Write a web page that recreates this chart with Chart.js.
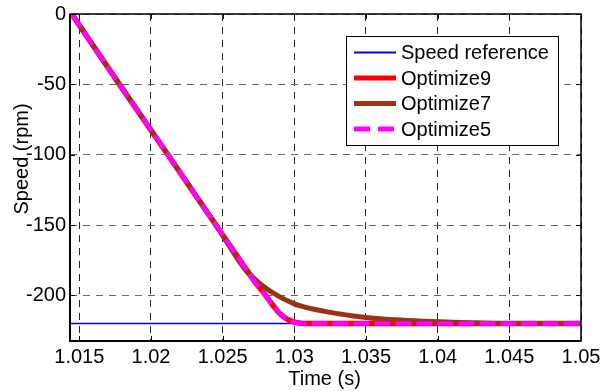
<!DOCTYPE html>
<html>
<head>
<meta charset="utf-8">
<script src="https://cdn.jsdelivr.net/npm/chart.js@4.4.1/dist/chart.umd.min.js"></script>
<style>
  html, body { margin: 0; padding: 0; background: #fff; }
  #wrap { width: 608px; height: 391px; position: relative; }
</style>
</head>
<body>
<div id="wrap"><canvas id="c"></canvas></div>
<script>
// Axis ranges and tick labels
const xRange = [1.01435, 1.05];
const yRange = [-232.4, 0];
const xTicks = [1.015, 1.02, 1.025, 1.03, 1.035, 1.04, 1.045, 1.05];
const xTickLabels = ['1.015', '1.02', '1.025', '1.03', '1.035', '1.04', '1.045', '1.05'];
const yTicks = [0, -50, -100, -150, -200];
const yTickLabels = ['0', '-50', '-100', '-150', '-200'];
const xTitle = 'Time (s)';
const yTitle = 'Speed (rpm)';

// Series names (legend order)
const seriesNames = ['Speed reference', 'Optimize9', 'Optimize7', 'Optimize5'];

// Speed reference
const refTime  = [1.01435, 1.05];
const refSpeed = [-220, -220];

// Optimize9
const opt9Time  = [1.01447, 1.0178, 1.02118, 1.02453, 1.02655, 1.0273, 1.0280, 1.0285, 1.029, 1.0295, 1.030, 1.0305, 1.031, 1.035, 1.05];
const opt9Speed = [0, -50, -100, -150, -180, -191, -200, -207, -213, -216.8, -219, -219.8, -220, -220, -220];

// Optimize7
const opt7Time  = [1.01447, 1.0178, 1.02118, 1.02453, 1.0266, 1.0272, 1.0279, 1.0288, 1.030, 1.0312, 1.0325, 1.034, 1.0355, 1.037, 1.039, 1.041, 1.043, 1.045, 1.05];
const opt7Speed = [0, -50, -100, -150, -182, -188, -194, -200, -206, -209.5, -212, -214.5, -216.2, -217.3, -218.3, -219, -219.6, -220, -220];

// Optimize5
const opt5Time  = [1.01447, 1.0178, 1.02118, 1.02453, 1.02655, 1.0273, 1.0280, 1.0285, 1.029, 1.0295, 1.030, 1.0305, 1.031, 1.035, 1.05];
const opt5Speed = [0, -50, -100, -150, -180, -191, -200, -207, -213, -216.8, -219, -219.8, -220, -220, -220];

const FONT = "'Liberation Sans', Arial, sans-serif";
const colors = ['#0000ff', '#ff0000', '#9a3410', '#ff00ff'];
const widths = [1.5, 5.5, 5, 4.5];
const dashes = [[], [], [], [16, 5]];

const pts = (t, v) => t.map((x, i) => ({ x, y: v[i] }));
const seriesData = [pts(refTime, refSpeed), pts(opt9Time, opt9Speed), pts(opt7Time, opt7Speed), pts(opt5Time, opt5Speed)];

// later series are painted on top (lower order = drawn last)
const datasets = seriesNames.map((name, i) => ({
  label: name,
  data: seriesData[i],
  borderColor: colors[i],
  backgroundColor: colors[i],
  borderWidth: widths[i],
  borderDash: dashes[i],
  borderCapStyle: 'butt',
  borderJoinStyle: 'round',
  pointRadius: 0,
  fill: false,
  cubicInterpolationMode: 'monotone',
  order: seriesNames.length - 1 - i
}));

// Inner tick marks and the axes box
const framePlugin = {
  id: 'frame',
  afterDatasetsDraw(chart) {
    const { ctx, chartArea: a, scales: { x, y } } = chart;
    ctx.save();
    ctx.strokeStyle = '#000';
    ctx.lineWidth = 1;
    ctx.beginPath();
    const tl = 5;
    xTicks.forEach(v => {
      const px = Math.round(x.getPixelForValue(v)) + 0.5;
      ctx.moveTo(px, a.bottom); ctx.lineTo(px, a.bottom - tl);
      ctx.moveTo(px, a.top); ctx.lineTo(px, a.top + tl);
    });
    yTicks.forEach(v => {
      const py = Math.round(y.getPixelForValue(v)) + 0.5;
      ctx.moveTo(a.left, py); ctx.lineTo(a.left + tl, py);
      ctx.moveTo(a.right, py); ctx.lineTo(a.right - tl, py);
    });
    ctx.stroke();
    ctx.lineWidth = 1.5;
    ctx.strokeRect(a.left, a.top, a.right - a.left, a.bottom - a.top);
    ctx.lineWidth = 2;
    ctx.beginPath();
    ctx.moveTo(a.left, a.top); ctx.lineTo(a.left, a.bottom); ctx.lineTo(a.right, a.bottom);
    ctx.stroke();
    ctx.restore();
  }
};

// Boxed legend in the upper right of the axes, plus axis titles
const legendPlugin = {
  id: 'boxLegend',
  afterDraw(chart) {
    const { ctx, chartArea: a } = chart;
    ctx.save();
    const bx = a.right - 235, by = a.top + 22, bw = 212, bh = 109;
    ctx.fillStyle = '#fff';
    ctx.fillRect(bx, by, bw, bh);
    ctx.strokeStyle = '#000';
    ctx.lineWidth = 1;
    ctx.strokeRect(bx + 0.5, by + 0.5, bw, bh);
    ctx.font = '20px ' + FONT;
    ctx.textAlign = 'left';
    ctx.textBaseline = 'middle';
    seriesNames.forEach((name, i) => {
      const cy = by + 16.5 + i * 25.5;
      ctx.beginPath();
      ctx.strokeStyle = colors[i];
      ctx.lineWidth = i === 0 ? 2 : 5;
      ctx.setLineDash(i === 3 ? [16, 8] : []);
      ctx.lineCap = 'butt';
      ctx.moveTo(bx + 8, cy); ctx.lineTo(bx + 50, cy);
      ctx.stroke();
      ctx.setLineDash([]);
      ctx.fillStyle = '#000';
      ctx.fillText(name, bx + 55, cy + 1);
    });

    ctx.fillStyle = '#000';
    ctx.font = '20px ' + FONT;
    ctx.textAlign = 'center';
    ctx.textBaseline = 'alphabetic';
    ctx.fillText(xTitle, (a.left + a.right) / 2 - 1, 385);
    ctx.translate(28, 159);
    ctx.rotate(-Math.PI / 2);
    ctx.fillText(yTitle, 0, 0);
    ctx.restore();
  }
};

new Chart(document.getElementById('c'), {
  type: 'line',
  data: { datasets },
  options: {
    responsive: true,
    maintainAspectRatio: false,
    devicePixelRatio: 1,
    animation: false,
    layout: { padding: { left: 0, right: 27, top: 11, bottom: 0 } },
    plugins: { legend: { display: false }, tooltip: { enabled: false } },
    scales: {
      x: {
        type: 'linear',
        min: xRange[0],
        max: xRange[1],
        afterBuildTicks: s => { s.ticks = xTicks.map(v => ({ value: v })); },
        afterFit: s => { s.height = 50; },
        ticks: {
          autoSkip: false,
          maxRotation: 0,
          padding: 6,
          color: '#000',
          font: { family: FONT, size: 20, lineHeight: 1 },
          callback: (v, i) => xTickLabels[i]
        },
        grid: { color: '#262626', lineWidth: 1, drawTicks: false },
        border: { display: false, dash: [7, 6] }
      },
      y: {
        type: 'linear',
        min: yRange[0],
        max: yRange[1],
        afterBuildTicks: s => { s.ticks = yTicks.map(v => ({ value: v })); },
        afterFit: s => { s.width = 70; },
        ticks: {
          autoSkip: false,
          padding: 4,
          color: '#000',
          font: { family: FONT, size: 20, lineHeight: 1 },
          callback: (v, i) => yTickLabels[i]
        },
        grid: { color: '#666666', lineWidth: 1, drawTicks: false },
        border: { display: false, dash: [7, 6] }
      }
    }
  },
  plugins: [framePlugin, legendPlugin]
});
</script>
</body>
</html>
